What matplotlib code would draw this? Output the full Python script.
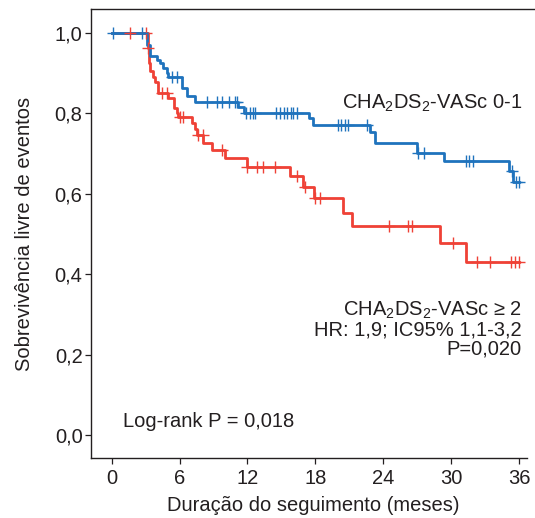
import numpy as np
import matplotlib
matplotlib.use("Agg")
import matplotlib.pyplot as plt

plt.rcParams['font.family'] = ['Liberation Sans', 'DejaVu Sans']
plt.rcParams['mathtext.fontset'] = 'custom'
plt.rcParams['mathtext.rm'] = 'Liberation Sans'
plt.rcParams['mathtext.it'] = 'Liberation Sans'
plt.rcParams['mathtext.bf'] = 'Liberation Sans'

# ---- data ----
low_times = [0, 3.09, 3.39, 3.98, 4.27, 4.56, 4.86, 5.0, 6.19, 6.63, 7.37, 11.2, 11.7,
             17.4, 17.8, 22.8, 23.3, 27.0, 29.4, 35.07, 35.45]
low_surv = [1.0, 0.971, 0.942, 0.934, 0.925, 0.913, 0.900, 0.890, 0.863, 0.843, 0.829,
            0.815, 0.800, 0.788, 0.771, 0.754, 0.726, 0.702, 0.682, 0.657, 0.630]
low_end = 36.0
low_censor = [0.14, 2.7, 5.3, 5.75, 8.4, 9.28, 9.78, 10.37, 10.9, 11.05, 11.9, 12.2, 12.45,
              12.7, 14.5, 14.9, 15.2, 15.5, 15.8, 16.0, 16.4, 20.0, 20.3, 20.6, 20.85,
              22.6, 27.05, 27.6, 31.3, 31.6, 31.9, 35.4, 35.7, 36.0]

high_times = [0, 3.18, 3.3, 3.39, 3.68, 3.83, 4.06, 5.0, 5.54, 5.75, 5.83, 7.07, 7.37, 7.5,
              8.1, 8.84, 10.02, 11.95, 15.77, 16.92, 17.85, 20.45, 21.25, 28.97, 31.3]
high_surv = [1.0, 0.962, 0.925, 0.906, 0.891, 0.877, 0.852, 0.838, 0.813, 0.800, 0.790,
             0.775, 0.760, 0.746, 0.726, 0.709, 0.688, 0.667, 0.644, 0.617, 0.589, 0.552,
             0.521, 0.477, 0.431]
high_end = 35.95
high_censor = [1.6, 3.0, 3.25, 4.42, 4.86, 6.04, 6.33, 7.66, 8.05, 9.73, 12.0, 12.8, 13.4,
               14.4, 16.4, 17.1, 18.0, 18.4, 24.5, 26.2, 26.5, 30.15, 32.3, 33.4, 35.3,
               35.66, 35.95]

x_ticks = [0, 6, 12, 18, 24, 30, 36]
y_ticks = [0.0, 0.2, 0.4, 0.6, 0.8, 1.0]
y_ticklabels = ['0,0', '0,2', '0,4', '0,6', '0,8', '1,0']

BLUE = '#1f73bd'
RED = '#ef4136'
TXT = '#231f20'
FS = 14.5

fig = plt.figure(figsize=(5.35, 5.18), dpi=100)
ax = fig.add_axes([0.170, 0.1158, 0.830, 0.8668])


def km(ax, times, surv, end, censor, color):
    t = list(times) + [end]
    s = list(surv) + [surv[-1]]
    ax.step(t, s, where='post', color=color, lw=2.0, zorder=3)
    idx = np.searchsorted(np.array(times), np.array(censor), side='right') - 1
    cy = np.array(surv)[idx]
    ax.plot(censor, cy, ls='none', marker='|', ms=8, mew=1.0, color=color, zorder=4)
    ax.plot(censor, cy, ls='none', marker='_', ms=8, mew=1.0, color=color, zorder=4)


km(ax, high_times, high_surv, high_end, high_censor, RED)
km(ax, low_times, low_surv, low_end, low_censor, BLUE)

ax.set_xlim(-1.83, 37.4)
ax.set_ylim(-0.0572, 1.0597)
ax.set_xticks(x_ticks)
ax.set_xticklabels([str(v) for v in x_ticks])
ax.set_yticks(y_ticks)
ax.set_yticklabels(y_ticklabels)

for sp in ['left', 'top', 'bottom']:
    ax.spines[sp].set_linewidth(1.0)
    ax.spines[sp].set_color(TXT)
ax.spines['right'].set_visible(False)
ax.spines['bottom'].set_bounds(-1.83, 36.72)

ax.tick_params(axis='both', direction='out', length=4.5, width=0.9, color=TXT,
               labelsize=FS, labelcolor=TXT)
ax.tick_params(axis='x', pad=3.5)
ax.tick_params(axis='y', pad=1.5)

ax.set_xlabel('Duração do seguimento (meses)', fontsize=FS, color=TXT, labelpad=6)
ax.set_ylabel('Sobrevivência livre de eventos', fontsize=FS, color=TXT, labelpad=15)

ax.text(36.3, 0.826, 'CHA$_2$DS$_2$-VASc 0-1', ha='right', va='center',
        fontsize=FS, color=TXT)
ax.text(36.25, 0.296, 'CHA$_2$DS$_2$-VASc ≥ 2', ha='right', va='baseline',
        fontsize=FS, color=TXT)
ax.text(36.25, 0.248, 'HR: 1,9; IC95% 1,1-3,2', ha='right', va='baseline',
        fontsize=FS, color=TXT)
ax.text(36.25, 0.200, 'P=0,020', ha='right', va='baseline', fontsize=FS, color=TXT)
ax.text(1.03, 0.021, 'Log-rank P = 0,018', ha='left', va='baseline', fontsize=FS,
        color=TXT)

fig.savefig('out.png', dpi=100)
